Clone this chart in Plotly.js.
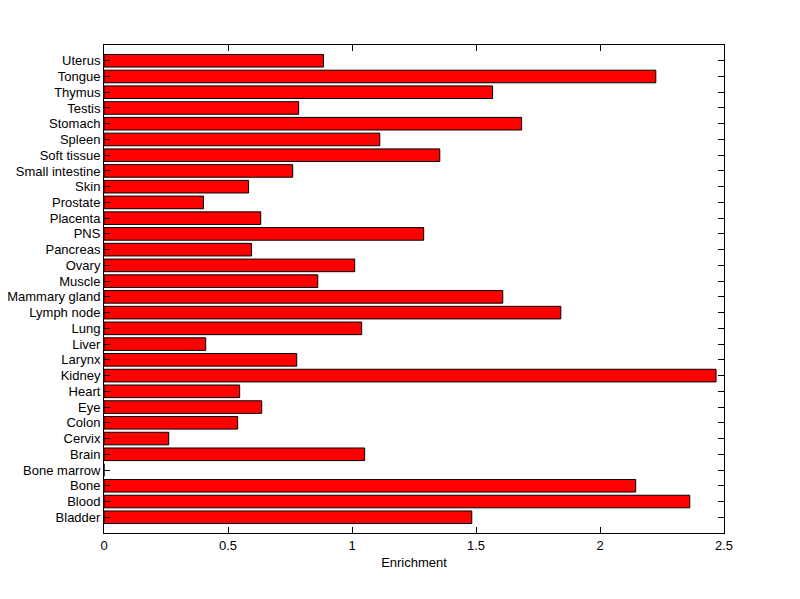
<!DOCTYPE html>
<html>
<head>
<meta charset="utf-8">
<script src="https://cdn.plot.ly/plotly-3.0.1.min.js"></script>
<style>html,body{margin:0;padding:0;background:#fff;}#chart{width:800px;height:599px;}</style>
</head>
<body>
<div id="chart"></div>
<script>
const categories = ["Bladder","Blood","Bone","Bone marrow","Brain","Cervix","Colon","Eye","Heart","Kidney","Larynx","Liver","Lung","Lymph node","Mammary gland","Muscle","Ovary","Pancreas","PNS","Placenta","Prostate","Skin","Small intestine","Soft tissue","Spleen","Stomach","Testis","Thymus","Tongue","Uterus"];
const enrichment = [1.483,2.362,2.144,0,1.051,0.261,0.539,0.636,0.547,2.468,0.777,0.410,1.039,1.842,1.608,0.862,1.011,0.595,1.289,0.632,0.401,0.583,0.761,1.354,1.112,1.684,0.785,1.567,2.225,0.885];
const xTicks = [0,0.5,1,1.5,2,2.5];
const xTickText = ["0","0.5","1","1.5","2","2.5"];
const xTitle = "Enrichment";

const trace = {
  type: "bar",
  orientation: "h",
  x: enrichment,
  y: categories,
  width: 0.8,
  marker: {color: "#ff0000", line: {color: "#000000", width: 1}},
  hoverinfo: "x+y"
};

const layout = {
  width: 800, height: 599,
  margin: {l: 104, r: 76, t: 45, b: 66, pad: 0},
  paper_bgcolor: "#ffffff",
  plot_bgcolor: "#ffffff",
  font: {family: "Arial, 'Liberation Sans', sans-serif", size: 13, color: "#000"},
  showlegend: false,
  bargap: 0.2,
  xaxis: {
    range: [0, 2.5],
    tickmode: "array",
    tickvals: xTicks,
    ticktext: xTickText,
    ticks: "inside",
    ticklen: 6,
    tickcolor: "#000",
    showline: true,
    linecolor: "#000",
    linewidth: 1,
    mirror: "ticks",
    showgrid: false,
    zeroline: false,
    title: {text: xTitle, font: {size: 13}, standoff: 6},
    tickfont: {size: 13}
  },
  yaxis: {
    type: "category",
    categoryorder: "array",
    categoryarray: categories,
    tickmode: "array",
    tickvals: categories,
    ticktext: categories,
    range: [-1, 30],
    ticks: "inside",
    ticklen: 6,
    tickcolor: "#000",
    showline: true,
    linecolor: "#000",
    linewidth: 1,
    mirror: "ticks",
    showgrid: false,
    zeroline: false,
    tickfont: {size: 13},
    automargin: false
  }
};

Plotly.newPlot("chart", [trace], layout, {displayModeBar: false, staticPlot: true});
</script>
</body>
</html>
